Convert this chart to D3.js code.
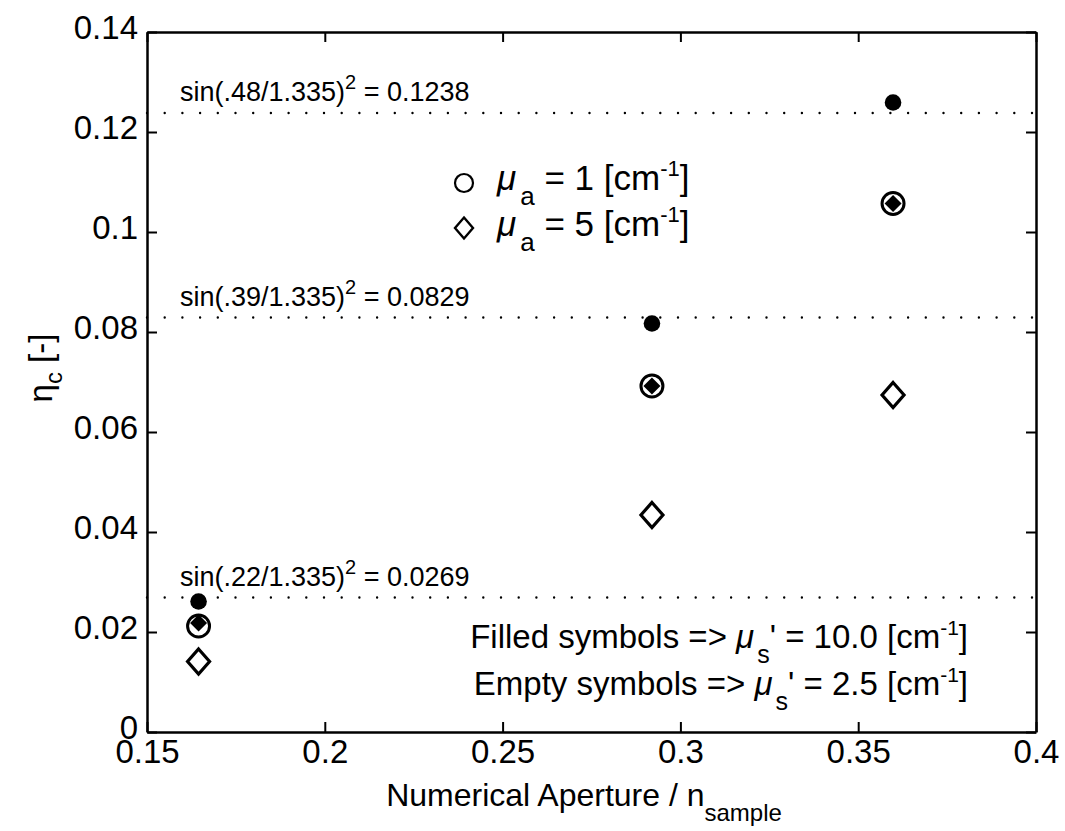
<!DOCTYPE html>
<html>
<head>
<meta charset="utf-8">
<script src="https://cdn.jsdelivr.net/npm/d3@7"></script>
<style>
  html, body { margin: 0; padding: 0; background: #fff; }
  svg text { font-family: "Liberation Sans", Arial, Helvetica, sans-serif; fill: #000; }
</style>
</head>
<body>
<svg id="chart" width="1065" height="831"></svg>
<script>
// ---------------- data ----------------
const xValues = [0.1645, 0.292, 0.3598];           // Numerical Aperture / n_sample
const filledCircle  = [0.0261, 0.0817, 0.1259];     // mu_a = 1, mu_s' = 10.0
const emptyCircle   = [0.0212, 0.0692, 0.1057];     // mu_a = 1, mu_s' = 2.5
const filledDiamond = [0.0218, 0.0692, 0.1057];     // mu_a = 5, mu_s' = 10.0
const emptyDiamond  = [0.0141, 0.0434, 0.0674];     // mu_a = 5, mu_s' = 2.5
const refValues = [0.1238, 0.0829, 0.0269];
const refLabels = [".48/1.335", ".39/1.335", ".22/1.335"];
const refResults = ["0.1238", "0.0829", "0.0269"];
const xTicks = [0.15, 0.2, 0.25, 0.3, 0.35, 0.4];
const xTickLabels = ["0.15", "0.2", "0.25", "0.3", "0.35", "0.4"];
const yTicks = [0, 0.02, 0.04, 0.06, 0.08, 0.1, 0.12, 0.14];
const yTickLabels = ["0", "0.02", "0.04", "0.06", "0.08", "0.1", "0.12", "0.14"];
const legendLabels = [" = 1 [cm", " = 5 [cm"];
const noteLabels = [["Filled symbols => ", "' = 10.0 [cm"], ["Empty symbols => ", "' = 2.5 [cm"]];

// ---------------- layout ----------------
const L = 147, R = 1036, T = 32, B = 732;
const svg = d3.select("#chart");
svg.append("rect").attr("width", 1065).attr("height", 831).attr("fill", "#fff");

const x = d3.scaleLinear().domain([0.15, 0.4]).range([L, R]);
const y = d3.scaleLinear().domain([0, 0.14]).range([B, T]);

const FS = 33;

// reference dotted lines
const refG = svg.append("g");
refValues.forEach((v, i) => {
  refG.append("line")
    .attr("x1", x(0.15)).attr("x2", x(0.4))
    .attr("y1", y(v)).attr("y2", y(v))
    .attr("stroke", "#000").attr("stroke-width", 2.4)
    .attr("stroke-linecap", "round")
    .attr("stroke-dasharray", "0 17.7");
  const t = refG.append("text")
    .attr("x", 180).attr("y", y(v) - 12)
    .attr("font-size", 27);
  t.append("tspan").text("sin(" + refLabels[i] + ")");
  t.append("tspan").attr("font-size", 20).attr("dy", -12).text("2");
  t.append("tspan").attr("dy", 12).text(" = " + refResults[i]);
});

// axes
function styleAxis(g) {
  g.selectAll("path.domain").attr("stroke", "#000").attr("stroke-width", 2.5);
  g.selectAll(".tick line").attr("stroke", "#000").attr("stroke-width", 2);
  g.selectAll(".tick text").attr("font-size", FS)
    .attr("font-family", "'Liberation Sans', Arial, sans-serif").attr("fill", "#000");
}
const xAxis = svg.append("g").attr("transform", `translate(0,${B})`)
  .call(d3.axisBottom(x).tickValues(xTicks).tickFormat((d, i) => xTickLabels[i])
        .tickSizeInner(-10).tickSizeOuter(0).tickPadding(8));
styleAxis(xAxis);
const yAxis = svg.append("g").attr("transform", `translate(${L},0)`)
  .call(d3.axisLeft(y).tickValues(yTicks).tickFormat((d, i) => yTickLabels[i])
        .tickSizeInner(-10).tickSizeOuter(0).tickPadding(9));
styleAxis(yAxis);
yAxis.selectAll(".tick text").attr("dy", "0.2em");
const xTop = svg.append("g").attr("transform", `translate(0,${T})`)
  .call(d3.axisTop(x).tickValues(xTicks).tickFormat("").tickSizeInner(-10).tickSizeOuter(0));
styleAxis(xTop);
const yRight = svg.append("g").attr("transform", `translate(${R},0)`)
  .call(d3.axisRight(y).tickValues(yTicks).tickFormat("").tickSizeInner(-10).tickSizeOuter(0));
styleAxis(yRight);

// markers
const pts = svg.append("g");
function diamondPath(cx, cy, hw, hh) {
  return `M${cx},${cy - hh}L${cx + hw},${cy}L${cx},${cy + hh}L${cx - hw},${cy}Z`;
}
xValues.forEach((xv, i) => {
  pts.append("circle").attr("cx", x(xv)).attr("cy", y(emptyCircle[i])).attr("r", 11)
    .attr("fill", "none").attr("stroke", "#000").attr("stroke-width", 3);
  pts.append("path").attr("d", diamondPath(x(xv), y(filledDiamond[i]), 8.5, 8.5))
    .attr("fill", "#000");
  pts.append("path").attr("d", diamondPath(x(xv), y(emptyDiamond[i]), 11, 12.5))
    .attr("fill", "none").attr("stroke", "#000").attr("stroke-width", 3.2)
    .attr("stroke-linejoin", "miter");
  pts.append("circle").attr("cx", x(xv)).attr("cy", y(filledCircle[i])).attr("r", 8.3)
    .attr("fill", "#000");
});

// legend
const lg = svg.append("g");
lg.append("circle").attr("cx", 464).attr("cy", 183).attr("r", 9)
  .attr("fill", "none").attr("stroke", "#000").attr("stroke-width", 2.2);
lg.append("path").attr("d", diamondPath(464, 228, 9, 10.5))
  .attr("fill", "none").attr("stroke", "#000").attr("stroke-width", 2.4);
legendLabels.forEach((d, i) => {
  const t = lg.append("text").attr("x", 497).attr("y", 190 + i * 46).attr("font-size", 35);
  t.append("tspan").attr("font-style", "italic").text("\u03BC");
  t.append("tspan").attr("font-size", 26).attr("dx", 4).attr("dy", 15).text("a");
  t.append("tspan").attr("dy", -15).text(d);
  t.append("tspan").attr("font-size", 22).attr("dy", -14).text("-1");
  t.append("tspan").attr("dy", 14).text("]");
});

// bottom right note
noteLabels.forEach((d, i) => {
  const t = svg.append("text").attr("x", 968).attr("y", 648 + i * 47)
    .attr("font-size", FS).attr("text-anchor", "end");
  t.append("tspan").text(d[0]);
  t.append("tspan").attr("font-style", "italic").text("\u03BC");
  t.append("tspan").attr("font-size", 25).attr("dx", 3).attr("dy", 15).text("s");
  t.append("tspan").attr("dy", -15).text(d[1]);
  t.append("tspan").attr("font-size", 21).attr("dy", -13).text("-1");
  t.append("tspan").attr("dy", 13).text("]");
});

// axis labels
const xl = svg.append("text").attr("x", 584).attr("y", 806).attr("font-size", 32)
  .attr("text-anchor", "middle");
xl.append("tspan").text("Numerical Aperture / n");
xl.append("tspan").attr("font-size", 24).attr("dy", 15).text("sample");

const yl = svg.append("text").attr("transform", `translate(52,368) rotate(-90)`)
  .attr("font-size", FS).attr("text-anchor", "middle");
yl.append("tspan").text("\u03B7");
yl.append("tspan").attr("font-size", 24).attr("dy", 10).text("c");
yl.append("tspan").attr("dy", -10).text(" [-]");
</script>
</body>
</html>
